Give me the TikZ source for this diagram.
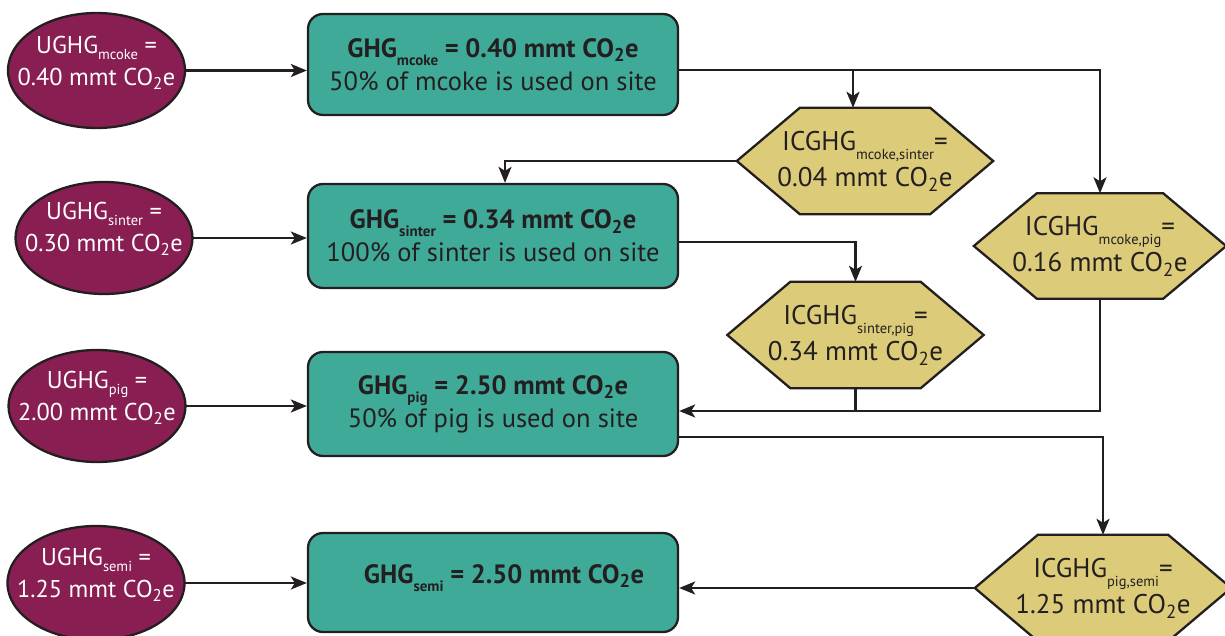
\documentclass[tikz,border=0pt]{standalone}
\usepackage{fontspec}
\setmainfont{PT Sans}
\usetikzlibrary{arrows.meta,backgrounds}
\definecolor{ellcol}{RGB}{137,30,82}
\definecolor{boxcol}{RGB}{64,170,153}
\definecolor{hexcol}{RGB}{220,203,120}
\definecolor{ink}{RGB}{35,31,32}
\newcommand{\esub}[1]{\raisebox{-6pt}{\fontsize{14.5}{15}\selectfont #1}}
\newcommand{\bsub}[1]{\raisebox{-8pt}{\fontsize{15}{15}\selectfont\bfseries #1}}
\newcommand{\hsub}[1]{\raisebox{-9pt}{\fontsize{14.5}{15}\selectfont #1}}
\newcommand{\two}{\textsubscript{2}}
\begin{document}
\begin{tikzpicture}[x=1pt,y=-1pt,
  ellnode/.style={rectangle, minimum width=177pt, minimum height=112pt, inner sep=0pt},
  elltext/.style={text=white, inner sep=0pt, align=center, font=\fontsize{24.3}{32}\selectfont},
  ellfill/.style={draw=ink, line width=2.3pt, fill=ellcol},
  boxnode/.style={rectangle, rounded corners=15pt, draw=ink, line width=2.3pt, fill=boxcol,
    text=ink, minimum width=370pt, minimum height=102pt, inner sep=0pt, align=center,
    font=\fontsize{26.5}{33}\selectfont},
  boxtext/.style={text=ink, inner sep=0pt, font=\fontsize{26.5}{33}\selectfont},
  hexnode/.style={rectangle, minimum width=256pt, minimum height=106pt, inner sep=0pt,
    align=center, text=ink, font=\fontsize{27}{36}\selectfont},
  hexdraw/.style={draw=ink, line width=2.3pt, fill=hexcol, line join=miter},
  line/.style={draw=ink, line width=2.3pt},
  conn/.style={line, -{Stealth[length=16pt,width=13pt,inset=4pt]}}
]
\useasboundingbox (0,0) rectangle (1225,636);
\clip (0,0) rectangle (1225,636);

% ellipses
\node[ellnode, minimum height=115pt] (e1) at (96.5,70.5) {};
\node[ellnode] (e2) at (104,238) {};
\node[ellnode] (e3) at (97,406) {};
\node[ellnode, minimum height=114pt] (e4) at (96,583) {};
\begin{scope}[on background layer]
\fill[ellfill] (e1.center) ellipse [x radius=88.5pt, y radius=57.5pt];
\fill[ellfill] (e2.center) ellipse [x radius=88.5pt, y radius=56pt];
\fill[ellfill] (e3.center) ellipse [x radius=88.5pt, y radius=56pt];
\fill[ellfill] (e4.center) ellipse [x radius=88.5pt, y radius=57pt];
\end{scope}
\node[elltext] (e1t) at ([yshift=8pt]e1.center) {UGHG\esub{mcoke} =\\0.40 mmt CO\two e};
\node[elltext] (e2t) at ([yshift=9pt]e2.center) {UGHG\esub{sinter} =\\0.30 mmt CO\two e};
\node[elltext] (e3t) at ([yshift=8pt]e3.center) {UGHG\esub{pig} =\\2.00 mmt CO\two e};
\node[elltext] (e4t) at ([yshift=8pt]e4.center) {UGHG\esub{semi} =\\1.25 mmt CO\two e};

% boxes
\node[boxnode, minimum height=101pt] (b1) at (493,64.5) {\textbf{GHG\bsub{mcoke} = 0.40 mmt CO\two e}\\50\% of mcoke is used on site};
\node[boxnode, minimum height=104pt] (b2) at (493,236) {\textbf{GHG\bsub{sinter} = 0.34 mmt CO\two e}\\100\% of sinter is used on site};
\node[boxnode, minimum height=104pt] (b3) at (493,404) {\textbf{GHG\bsub{pig} = 2.50 mmt CO\two e}\\50\% of pig is used on site};
\node[boxnode, minimum height=99pt] (b4) at (493,582.5) {};
\node[boxtext, anchor=base] (b4t) at (504,583) {\textbf{GHG\bsub{semi} = 2.50 mmt CO\two e}};

% hexagons
\node[hexnode] (h1) at (865,161) {ICGHG\hsub{mcoke,sinter}=\\0.04 mmt CO\two e};
\node[hexnode, minimum width=252pt, minimum height=105pt] (h2) at (1100,246) {ICGHG\hsub{mcoke,pig}=\\0.16 mmt CO\two e};
\node[hexnode] (h3) at (855.5,335) {ICGHG\hsub{sinter,pig}=\\0.34 mmt CO\two e};
\node[hexnode] (h4) at (1103,588) {ICGHG\hsub{pig,semi}=\\1.25 mmt CO\two e};
\begin{scope}[on background layer]
\foreach \h in {h1,h2,h3,h4}{
  \draw[hexdraw] (\h.west) -- ([xshift=63pt]\h.north west) -- ([xshift=-63pt]\h.north east)
    -- (\h.east) -- ([xshift=-63pt]\h.south east) -- ([xshift=63pt]\h.south west) -- cycle;
}
\end{scope}

% connectors: ellipses to boxes
\draw[conn] (e1.east) -- (e1.east -| b1.west);
\draw[conn] (e2.east) -- (e2.east -| b2.west);
\draw[conn] (e3.east) -- (e3.east -| b3.west);
\draw[conn] (e4.east) -- (e4.east -| b4.west);

% mcoke
\coordinate (j1) at (853,70);
\draw[conn] (b1.east |- j1) -- (j1 -| h2.north) -- (h2.north);
\draw[conn] (j1) -- (j1 |- h1.north);
% mcoke,sinter to sinter
\coordinate (j2) at (505,161);
\draw[conn] (h1.west) -- (h1.west -| j2) -- (j2 |- b2.north);
% sinter to sinter,pig
\coordinate (j3) at (0,242);
\draw[conn] (b2.east |- j3) -- (h3.north |- j3) -- (h3.north);
% to pig
\coordinate (j4) at (0,411);
\draw[conn] (h2.south) -- (h2.south |- j4) -- (b3.east |- j4);
\draw[line] (h3.south) -- (h3.south |- j4);
% pig to pig,semi
\coordinate (j5) at (0,437);
\draw[conn] (b3.east |- j5) -- (h4.north |- j5) -- (h4.north);
% pig,semi to semi
\draw[conn] (h4.west) -- (h4.west -| b4.east);
\end{tikzpicture}
\end{document}
